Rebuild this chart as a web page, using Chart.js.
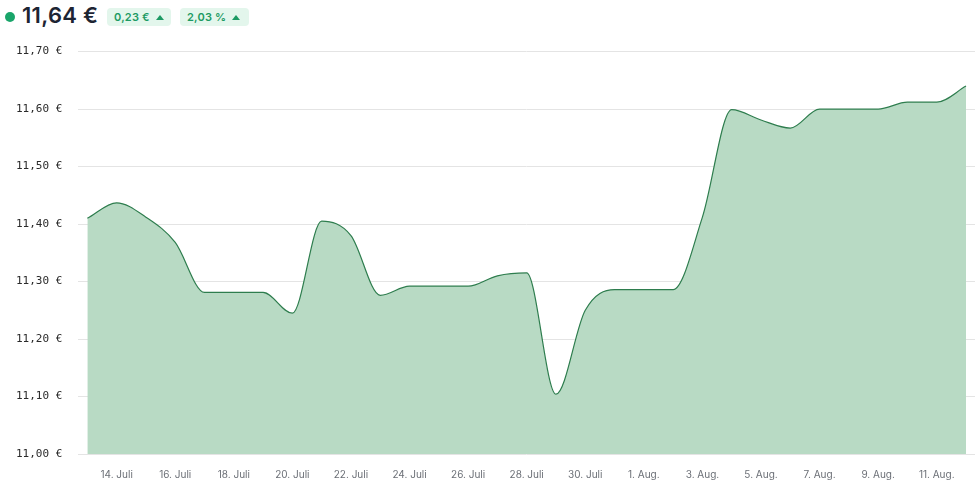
<!DOCTYPE html>
<html>
<head>
<meta charset="utf-8">
<script src="https://cdn.jsdelivr.net/npm/chart.js@4"></script>
<style>
  html, body { margin: 0; padding: 0; background: #fff; width: 980px; height: 490px; overflow: hidden; }
  #head { position: absolute; left: 0; top: 0; width: 980px; height: 29px; font-family: Inter, "Noto Sans", sans-serif; z-index: 2; }
  #dot { position: absolute; left: 5px; top: 12px; width: 10px; height: 10px; border-radius: 50%; background: #1aa56a; }
  #price { position: absolute; left: 22px; top: 2px; font-size: 22px; font-weight: 600; color: #1d2433; letter-spacing: 0.3px; }
  .badge { position: absolute; top: 8px; height: 18px; border-radius: 4px; background: #e3f6ec; color: #1c9a63; font-size: 11px; font-weight: 600; line-height: 18px; padding: 0 7px; box-sizing: border-box; white-space: nowrap; letter-spacing: 0.2px; }
  .tri { display: inline-block; width: 0; height: 0; border-left: 4px solid transparent; border-right: 4px solid transparent; border-bottom: 5px solid #1c9a63; margin-left: 6px; vertical-align: 1px; }
  #wrap { position: absolute; left: 0; top: 29px; width: 980px; height: 467px; }
</style>
</head>
<body>
<div id="head">
  <div id="dot"></div>
  <div id="price">11,64 €</div>
  <div class="badge" style="left:107px;width:64px;">0,23 €<span class="tri"></span></div>
  <div class="badge" style="left:180px;width:69px;">2,03 %<span class="tri"></span></div>
</div>
<div id="wrap"><canvas id="c"></canvas></div>
<script>
const dates = ["13. Juli","14. Juli","15. Juli","16. Juli","17. Juli","18. Juli","19. Juli","20. Juli","21. Juli","22. Juli",
  "23. Juli","24. Juli","25. Juli","26. Juli","27. Juli","28. Juli","29. Juli","30. Juli","31. Juli",
  "1. Aug.","2. Aug.","3. Aug.","4. Aug.","5. Aug.","6. Aug.","7. Aug.","8. Aug.","9. Aug.","10. Aug.","11. Aug.","12. Aug."];
const prices = [11.41, 11.437, 11.412, 11.368, 11.281, 11.281, 11.281, 11.245, 11.405, 11.38,
  11.276, 11.292, 11.292, 11.292, 11.31, 11.315, 11.104, 11.25, 11.286,
  11.286, 11.286, 11.412, 11.599, 11.581, 11.567, 11.60, 11.60, 11.60, 11.612, 11.612, 11.64];
const xTickIndices = [1,3,5,7,9,11,13,15,17,19,21,23,25,27,29];
const yTicks = [11.0, 11.1, 11.2, 11.3, 11.4, 11.5, 11.6, 11.7];

const points = prices.map((v, i) => ({ x: i, y: v }));

new Chart(document.getElementById('c'), {
  type: 'line',
  data: {
    datasets: [{
      data: points,
      borderColor: '#2e7d4e',
      borderWidth: 1.2,
      backgroundColor: 'rgba(184,218,196,1)',
      fill: 'origin',
      pointRadius: 0,
      cubicInterpolationMode: 'monotone'
    }]
  },
  options: {
    responsive: true,
    maintainAspectRatio: false,
    animation: false,
    layout: { padding: { left: 0, right: 5, top: 4, bottom: 0 } },
    plugins: { legend: { display: false }, tooltip: { enabled: false } },
    scales: {
      x: {
        type: 'linear',
        min: -0.307,
        max: 30.307,
        afterBuildTicks: (axis) => { axis.ticks = xTickIndices.map(v => ({ value: v })); },
        ticks: {
          autoSkip: false,
          maxRotation: 0,
          padding: 15,
          color: '#6b6f76',
          font: { family: 'Inter', size: 10 },
          callback: (v) => dates[v]
        },
        grid: { display: false, drawTicks: false },
        border: { display: false }
      },
      y: {
        min: 11.0,
        max: 11.7,
        afterBuildTicks: (axis) => { axis.ticks = yTicks.map(v => ({ value: v })); },
        ticks: {
          padding: 16,
          color: '#2a2a2a',
          font: { family: 'DejaVu Sans Mono', size: 11 },
          callback: (v) => v.toFixed(2).replace('.', ',') + ' €'
        },
        grid: { color: '#e4e4e4', drawTicks: false, lineWidth: 1 },
        border: { display: false }
      }
    }
  }
});
</script>
</body>
</html>
